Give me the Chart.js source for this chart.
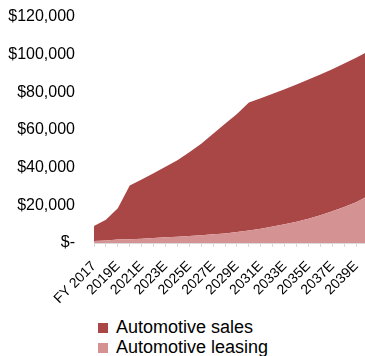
<!DOCTYPE html>
<html>
<head>
<meta charset="utf-8">
<script src="https://cdn.jsdelivr.net/npm/chart.js@4/dist/chart.umd.min.js"></script>
<style>
  html, body { margin: 0; padding: 0; background: #fff; overflow: hidden; }
  body { width: 365px; height: 356px; position: relative; font-family: "Liberation Sans", Arial, sans-serif; }
  #wrap { position: absolute; left: 0; top: 0; width: 368px; height: 310px; }
  #legend { position: absolute; left: 98px; top: 317px; font-size: 18px; color: #000; }
  #legend .item { display: flex; align-items: center; height: 20px; }
  #legend .box { width: 10px; height: 10px; margin-right: 8px; margin-top: 1px; }
</style>
</head>
<body>
<div id="wrap"><canvas id="chart"></canvas></div>
<div id="legend"></div>
<script>
// fiscal years, one label shown every other year
const years = [
  'FY 2017', '2018E', '2019E', '2020E', '2021E', '2022E', '2023E', '2024E',
  '2025E', '2026E', '2027E', '2028E', '2029E', '2030E', '2031E', '2032E',
  '2033E', '2034E', '2035E', '2036E', '2037E', '2038E', '2039E', '2040E'
];

// revenue in $ millions
const leasing = [
  1100, 1300, 1800, 2000, 2300, 2600, 3000, 3300,
  3700, 4100, 4600, 5100, 5800, 6600, 7600, 8700,
  9900, 11300, 12900, 14700, 16900, 19100, 21700, 25000
];
const sales = [
  7900, 11000, 16700, 28500, 31400, 34500, 37500, 40700,
  44500, 48600, 53400, 58200, 62700, 68000, 69200, 70500,
  71800, 72900, 73900, 74800, 75400, 76200, 76700, 76700
];

const yTicks = [0, 20000, 40000, 60000, 80000, 100000, 120000];

const salesColor = '#a94646';
const leasingColor = '#d49293';
const font = "'Liberation Sans', Arial, sans-serif";

function money(v) {
  if (v === 0) return '$-';
  return '$' + v.toLocaleString('en-US');
}

const chart = new Chart(document.getElementById('chart'), {
  type: 'line',
  data: {
    labels: years,
    datasets: [
      // leasing sits at the bottom of the stack
      {
        label: 'Automotive leasing',
        data: leasing,
        backgroundColor: leasingColor,
        borderWidth: 0,
        pointRadius: 0,
        fill: 'origin'
      },
      {
        label: 'Automotive sales',
        data: sales,
        backgroundColor: salesColor,
        borderWidth: 0,
        pointRadius: 0,
        fill: '-1'
      }
    ]
  },
  options: {
    responsive: true,
    maintainAspectRatio: false,
    animation: false,
    layout: { padding: { left: 0, top: 17, right: 0, bottom: 0 } },
    plugins: {
      legend: { display: false },
      tooltip: { enabled: false }
    },
    scales: {
      x: {
        offset: false,
        afterFit: (axis) => {
          axis.height = 67;
          axis.paddingLeft = 0;
          axis.paddingRight = 0;
        },
        grid: {
          display: true,
          drawOnChartArea: false,
          drawTicks: true,
          tickLength: 4,
          color: '#d9d9d9'
        },
        border: { display: true, color: '#d9d9d9' },
        ticks: {
          autoSkip: false,
          minRotation: 45,
          maxRotation: 45,
          padding: 11,
          color: '#000',
          font: { family: font, size: 14 },
          callback: (v, i) => (i % 2 === 0 ? years[i] : '')
        }
      },
      y: {
        stacked: true,
        min: 0,
        max: 120000,
        afterBuildTicks: (axis) => {
          axis.ticks = yTicks.map(v => ({ value: v }));
        },
        afterFit: (axis) => {
          axis.width = 94;
          axis.paddingTop = 0;
          axis.paddingBottom = 0;
        },
        grid: { display: false, drawTicks: false },
        border: { display: false },
        ticks: {
          padding: 19,
          color: '#000',
          font: { family: font, size: 16 },
          callback: (v) => money(v)
        }
      }
    }
  }
});

// legend lists sales first, the reverse of the stacking order
const legendEl = document.getElementById('legend');
chart.data.datasets.slice().reverse().forEach(ds => {
  const item = document.createElement('div');
  item.className = 'item';
  item.innerHTML = `<span class="box" style="background:${ds.backgroundColor}"></span><span>${ds.label}</span>`;
  legendEl.appendChild(item);
});
</script>
</body>
</html>
